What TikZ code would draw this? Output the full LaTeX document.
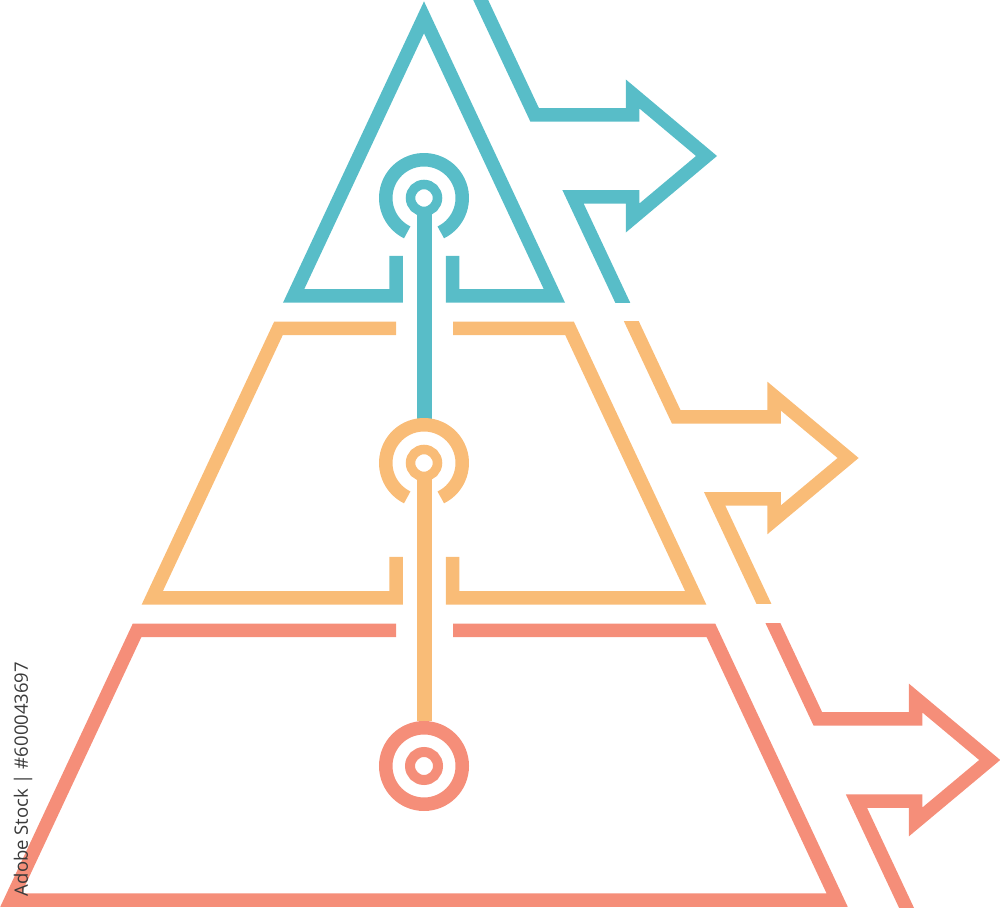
\documentclass[tikz,border=0pt]{standalone}
\usepackage{fontspec}
\setsansfont{Open Sans}
\definecolor{tealc}{HTML}{58BDC8}
\definecolor{orangec}{HTML}{F9BC77}
\definecolor{redc}{HTML}{F58E79}
\definecolor{wmc}{HTML}{3A3A3A}
\begin{document}
\begin{tikzpicture}[x=1pt,y=1pt,
  band/.style={line width=13.5pt, line join=miter, miter limit=10, line cap=butt},
  stem/.style={line width=14.5pt, line cap=butt},
  smallring/.style={line width=9.5pt}]
\useasboundingbox (0,0) rectangle (1000,907);
\clip (0,0) rectangle (1000,907);
\coordinate (tc) at (424,709);
\coordinate (oc) at (424,444);
\coordinate (rc) at (424,141);

% pyramid levels
\draw[band, tealc] (396,651) -- (396,611) -- (293.6,611) -- (424,889.7) -- (554.4,611) -- (452.5,611) -- (452.5,651);
\draw[band, orangec] (396,578.5) -- (278.4,578.5) -- (152.2,309) -- (396,309) -- (396,350);
\draw[band, orangec] (453,578.5) -- (569.6,578.5) -- (695.8,309) -- (452.5,309) -- (452.5,350);
\draw[band, redc] (396,276.5) -- (137,276.5) -- (10.9,7) -- (837.1,7) -- (711,276.5) -- (453,276.5);

% stems
\draw[stem, tealc] (424.5,696) -- (424.5,488);
\draw[stem, orangec] (424.5,431) -- (424.5,186);

% rings
\draw[smallring, tealc] (tc) circle[radius=13.5];
\draw[band, tealc] ([shift={(-64:38.25)}]tc) arc[start angle=-64, end angle=244, radius=38.25];
\draw[smallring, orangec] (oc) circle[radius=13.5];
\draw[band, orangec] ([shift={(-64:38.25)}]oc) arc[start angle=-64, end angle=244, radius=38.25];
\draw[line width=10pt, redc] (rc) circle[radius=14];
\draw[band, redc] (rc) circle[radius=38.25];

% arrows
\begin{scope}
\clip (0,604) rectangle (1000,910);
\draw[band, tealc] (476.0,917) -- (534.7,792) -- (632.5,792) -- (632.5,813.1) -- (706.5,751) -- (632.5,688.9) -- (632.5,710) -- (573.1,710) -- (628.5,592);
\end{scope}
\begin{scope}
\clip (0,303) rectangle (1000,585);
\draw[band, orangec] (627.0,595) -- (676.3,490) -- (774.1,490) -- (774.1,510.85) -- (848.1,449) -- (774.1,387.15) -- (774.1,408) -- (714.7,408) -- (770.1,290);
\end{scope}
\begin{scope}
\clip (0,-5) rectangle (1000,283.5);
\draw[band, redc] (767.7,295) -- (817.9,188) -- (915.7,188) -- (915.7,208.85) -- (989.7,147) -- (915.7,85.15) -- (915.7,106) -- (856.4,106) -- (910.8,-10);
\end{scope}

% watermark text
\node[rotate=90, text=wmc, font=\sffamily\fontsize{18.5}{18.5}\selectfont, inner sep=0pt] (wm) at (23,128) {Adobe Stock | \#600043697};
\end{tikzpicture}
\end{document}
